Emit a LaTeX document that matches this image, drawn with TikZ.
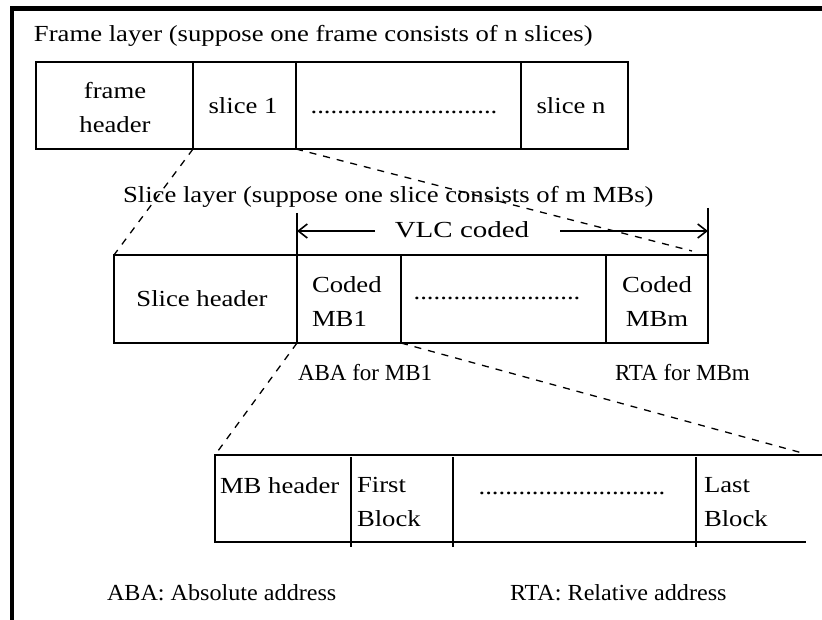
\documentclass[tikz,border=0pt]{standalone}
\usepackage{fontspec}
\setmainfont[FakeStretch=1.16]{Liberation Serif}
\newfontfamily\narrowfnt[FakeStretch=1.0]{Liberation Serif}
\newfontfamily\legendfnt[FakeStretch=1.05]{Liberation Serif}
\newfontfamily\widefnt[FakeStretch=1.26]{Liberation Serif}
\usetikzlibrary{arrows.meta}
\begin{document}
\begin{tikzpicture}[x=1pt,y=-1pt,
  every node/.style={font=\fontsize{23}{34}\selectfont, inner sep=0pt, outer sep=0pt},
  rowbox/.style={draw, line width=2pt, rectangle},
  rowline/.style={line width=2pt},
  divline/.style={line width=1.8pt},
  dashline/.style={line width=1.3pt, dash pattern=on 7pt off 7pt},
  border/.style={line width=4.5pt},
  dimarrow/.style={line width=1.6pt, -{Straight Barb[length=9pt,width=14pt]}},
  tick/.style={line width=1.8pt},
  cellc/.style={align=center},
  celll/.style={align=left},
  smalllabel/.style={font=\fontsize{23}{34}\narrowfnt},
  legend/.style={font=\fontsize{23}{34}\legendfnt},
]
\useasboundingbox (0,0) rectangle (822,620);
% outer frame (top and left edges)
\draw[border] (12,620) -- (12,8.7) -- (822,8.7);

% ---------- Frame layer ----------
\node[anchor=base west] (t1) at (34,42) {Frame layer (suppose one frame consists of n slices)};
\node[rowbox, minimum width=592pt, minimum height=87pt] (framerow) at (332,105.5) {};
\coordinate (fa1) at (193,62);  \coordinate (fb1) at (193,149);
\coordinate (fa2) at (296,62);  \coordinate (fb2) at (296,149);
\coordinate (fa3) at (521,62);  \coordinate (fb3) at (521,149);
\draw[divline] (fa1) -- (fb1) (fa2) -- (fb2) (fa3) -- (fb3);
\node[cellc, anchor=north] (fh) at (115,82) {frame\\header};
\node[anchor=base] (s1) at (243,114) {slice 1};
\node[anchor=base] (fdots) at (404,114) {............................};
\node[anchor=base] (sn) at (571,114) {slice n};

% ---------- Slice layer ----------
\node[anchor=base west] (t2) at (123,203) {Slice layer (suppose one slice consists of m MBs)};
\node[rowbox, minimum width=594pt, minimum height=88pt] (slicerow) at (411,299) {};
\coordinate (sa1) at (297,213); \coordinate (sb1) at (297,343);
\coordinate (sa2) at (401,255); \coordinate (sb2) at (401,343);
\coordinate (sa3) at (606,255); \coordinate (sb3) at (606,343);
\coordinate (stop) at (708,208);
\draw[divline] (sa1) -- (sb1) (sa2) -- (sb2) (sa3) -- (sb3);
\draw[tick] (stop) -- (slicerow.north east);
\node[anchor=base, font=\fontsize{23}{34}\widefnt] (vlc) at (462,238) {VLC coded};
\coordinate (vl) at (375,231); \coordinate (vle) at (297,231);
\coordinate (vr) at (560,231); \coordinate (vre) at (708,231);
\draw[dimarrow] (vl) -- (vle);
\draw[dimarrow] (vr) -- (vre);
\node[anchor=base] (sh) at (202,307) {Slice header};
\node[celll, anchor=north west] (cmb1) at (312,277) {Coded\\MB1};
\node[anchor=base] (sdots) at (497,300) {.........................};
\node[cellc, anchor=north] (cmbm) at (657,277) {Coded\\MBm};

\coordinate (se2) at (692,251);
\draw[dashline] (fb1) -- (slicerow.north west);
\draw[dashline] (fb2) -- (se2);

\node[smalllabel, anchor=base west] (aba1) at (298,381) {ABA for MB1};
\node[smalllabel, anchor=base west] (rtam) at (615,381) {RTA for MBm};

% ---------- MB layer ----------
\coordinate (mbnw) at (215,455);
\coordinate (mbne) at (822,455);
\coordinate (mbsw) at (215,542);
\coordinate (mbse) at (806,542);
\draw[rowline] (mbne) -- (mbnw) -- (mbsw) -- (mbse);
\coordinate (ma1) at (351,457); \coordinate (mb1) at (351,547);
\coordinate (ma2) at (453,457); \coordinate (mb2) at (453,547);
\coordinate (ma3) at (696,457); \coordinate (mb3) at (696,547);
\draw[divline] (ma1) -- (mb1) (ma2) -- (mb2) (ma3) -- (mb3);
\node[anchor=base west] (mbh) at (220,493) {MB header};
\node[celll, anchor=north west] (fbk) at (357,477) {First\\Block};
\node[anchor=base] (mdots) at (572,494) {............................};
\node[celll, anchor=north west] (lbk) at (704,477) {Last\\Block};

\coordinate (me2) at (806,454);
\draw[dashline] (sb1) -- (mbnw);
\draw[dashline] (sb2) -- (me2);

% ---------- legend ----------
\node[legend, anchor=base west] (lg1) at (107,600) {ABA: Absolute address};
\node[legend, anchor=base west] (lg2) at (510,600) {RTA: Relative address};
\end{tikzpicture}
\end{document}
